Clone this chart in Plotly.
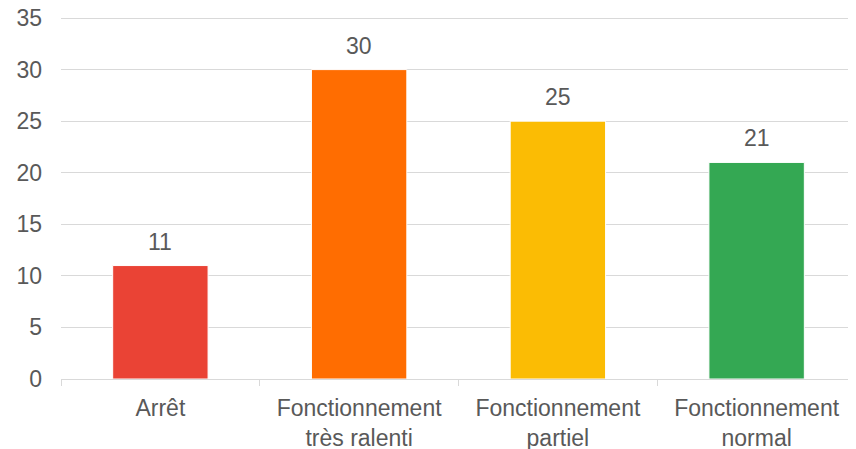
import plotly.graph_objects as go

categories = ["Arrêt", "Fonctionnement<br>très ralenti", "Fonctionnement<br>partiel", "Fonctionnement<br>normal"]
values = [11, 30, 25, 21]
colors = ["#EA4335", "#FF6D01", "#FBBC04", "#34A853"]
y_ticks = [0, 5, 10, 15, 20, 25, 30, 35]

font_family = "Liberation Sans, Arial, sans-serif"
text_color = "#595959"
grid_color = "#D9D9D9"
fsize = 23

fig = go.Figure()
fig.add_trace(go.Bar(
    x=categories, y=values,
    marker=dict(color=colors, line=dict(color="white", width=1)),
    width=0.48,
    hoverinfo="skip",
))

for c, v in zip(categories, values):
    fig.add_annotation(x=c, y=v, text=str(v), showarrow=False,
                       yanchor="bottom", yshift=9,
                       font=dict(family=font_family, size=fsize, color=text_color))

fig.update_layout(
    width=848, height=441,
    margin=dict(l=53, r=0, t=9, b=70),
    plot_bgcolor="white", paper_bgcolor="white",
    showlegend=False,
    font=dict(family=font_family, size=fsize, color=text_color),
    xaxis=dict(
        automargin=False,
        showline=True, linecolor=grid_color, linewidth=1,
        ticks="outside", tickson="boundaries", ticklen=6, tickcolor=grid_color,
        showgrid=False, ticklabelstandoff=8, ticklabeloverflow="allow",
        tickfont=dict(family=font_family, size=fsize, color=text_color),
    ),
    yaxis=dict(
        automargin=False,
        range=[0, 35.1], tickvals=y_ticks,
        showgrid=True, gridcolor=grid_color, gridwidth=1,
        zeroline=False, showline=False, ticks="",
        ticklabelstandoff=18, ticklabeloverflow="allow",
        tickfont=dict(family=font_family, size=fsize, color=text_color),
    ),
)

fig.write_html("out.html")
